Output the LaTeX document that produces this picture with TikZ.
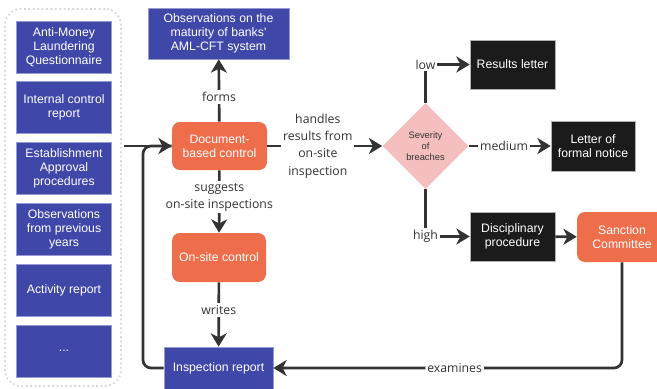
\documentclass[tikz,border=0pt]{standalone}
\usepackage{fontspec}
\newfontfamily\boxfont{Liberation Sans}
\newfontfamily\edgefont{Open Sans}
\usetikzlibrary{arrows.meta}
\usetikzlibrary{shapes.geometric}
\definecolor{boxblue}{HTML}{3F47A9}
\definecolor{boxorange}{HTML}{EE6D4A}
\definecolor{boxpink}{HTML}{F5BFBF}
\definecolor{boxblack}{HTML}{1B1B1B}
\definecolor{linegray}{HTML}{333333}
\definecolor{dotgray}{HTML}{D6D6D6}
\tikzset{>={Stealth[length=10pt,width=12pt,inset=3pt]}}
\tikzset{
  base/.style={rectangle,text=white,align=center,inner sep=2pt,
    font=\boxfont\fontsize{9.2}{10.5}\selectfont},
  bluebox/.style={base,fill=boxblue,draw=boxblue!55!white,line width=0.5pt},
  orangebox/.style={base,fill=boxorange,rounded corners=6pt},
  blackbox/.style={base,fill=boxblack,draw=gray!60,line width=0.4pt},
  flow/.style={draw=linegray,line width=2pt},
  lab/.style={fill=white,text=linegray,align=center,inner sep=1.5pt,
    font=\edgefont\fontsize{9.2}{13}\selectfont},
}

\begin{document}
\begin{tikzpicture}[x=0.75pt,y=-0.75pt]
      \useasboundingbox (0,0) rectangle (657,389);

      % inputs column
      \node [draw=dotgray,dotted,line width=1.3pt,rounded corners=12pt,
      minimum width=87pt,minimum height=282.75pt] (inputs) at (63,197.5) {};

      \node [bluebox,minimum width=71.25pt,minimum height=39pt]
      (quest) at (64,47) {Anti-Money\\Laundering\\Questionnaire};

      \node [bluebox,minimum width=71.25pt,minimum height=39pt]
      (internal) at (64,107.8) {Internal control\\report};

      \node [bluebox,minimum width=71.25pt,minimum height=39pt]
      (approval) at (64,168.6) {Establishment\\Approval\\procedures};

      \node [bluebox,minimum width=71.25pt,minimum height=39pt]
      (previous) at (64,229.4) {Observations\\from previous\\years};

      \node [bluebox,minimum width=71.25pt,minimum height=39pt]
      (activity) at (64,290.2) {Activity report};

      \node [bluebox,minimum width=71.25pt,minimum height=39pt]
      (more) at (64,351) {...};

      % controls
      \node [bluebox,minimum width=105.75pt,minimum height=38.25pt]
      (obs) at (218.5,33.5) {Observations on the\\maturity of banks'\\AML-CFT system};

      \node [orangebox,minimum width=71.25pt,minimum height=36pt]
      (doc) at (219.5,146) {Document-\\based control};

      \node [orangebox,minimum width=70.5pt,minimum height=36.75pt]
      (onsite) at (219,257.5) {On-site control};

      \node [bluebox,minimum width=81.75pt,minimum height=31.5pt]
      (insp) at (218.5,368) {Inspection report};

      % outcomes
      \node [diamond,fill=boxpink,minimum width=64.5pt,minimum height=64.5pt,
      inner sep=0pt,text=linegray,align=center,
      font=\boxfont\fontsize{7}{8.3}\selectfont]
      (sev) at (425.5,146) {Severity\\of\\breaches};

      \node [blackbox,minimum width=63.75pt,minimum height=36.75pt]
      (res) at (512.5,64.5) {Results letter};

      \node [blackbox,minimum width=63pt,minimum height=37.5pt]
      (notice) at (593,146) {Letter of\\formal notice};

      \node [blackbox,minimum width=63.75pt,minimum height=36.75pt]
      (disc) at (512.5,236.5) {Disciplinary\\procedure};

      \node [orangebox,minimum width=67.5pt,minimum height=37.5pt]
      (sanc) at (622,237) {Sanction\\Committee};

      \coordinate (start) at (124,146);
      \coordinate (turn) at (143,146);

      % connectors
      \draw [flow,rounded corners=6pt] (insp.west) -| (turn) -- (doc.west);
      \draw [flow,->] (start) -- (doc.west);
      \draw [flow,->] (doc) -- node [lab,pos=0.4] {forms} (obs);
      \draw [flow,->] (doc) -- node [lab,pos=0.43]
      {suggests\\on-site inspections} (onsite);
      \draw [flow,->] (onsite) -- node [lab,pos=0.43] {writes} (insp);
      \draw [flow,->] (doc) -- node [lab,pos=0.44]
      {handles\\results from\\on-site\\inspection} (sev);
      \draw [flow,->] (sev.north) |- node [lab,pos=0.5] {low} (res.west);
      \draw [flow,->] (sev) -- node [lab,pos=0.43] {medium} (notice);
      \draw [flow,->] (sev.south) |- node [lab,pos=0.5] {high} (disc.west);
      \draw [flow,->] (disc) -- (sanc);
      \draw [flow,->,rounded corners=6pt] (sanc.south) |-
      node [lab,pos=0.74] {examines} (insp.east);
  \end{tikzpicture}
\end{document}
